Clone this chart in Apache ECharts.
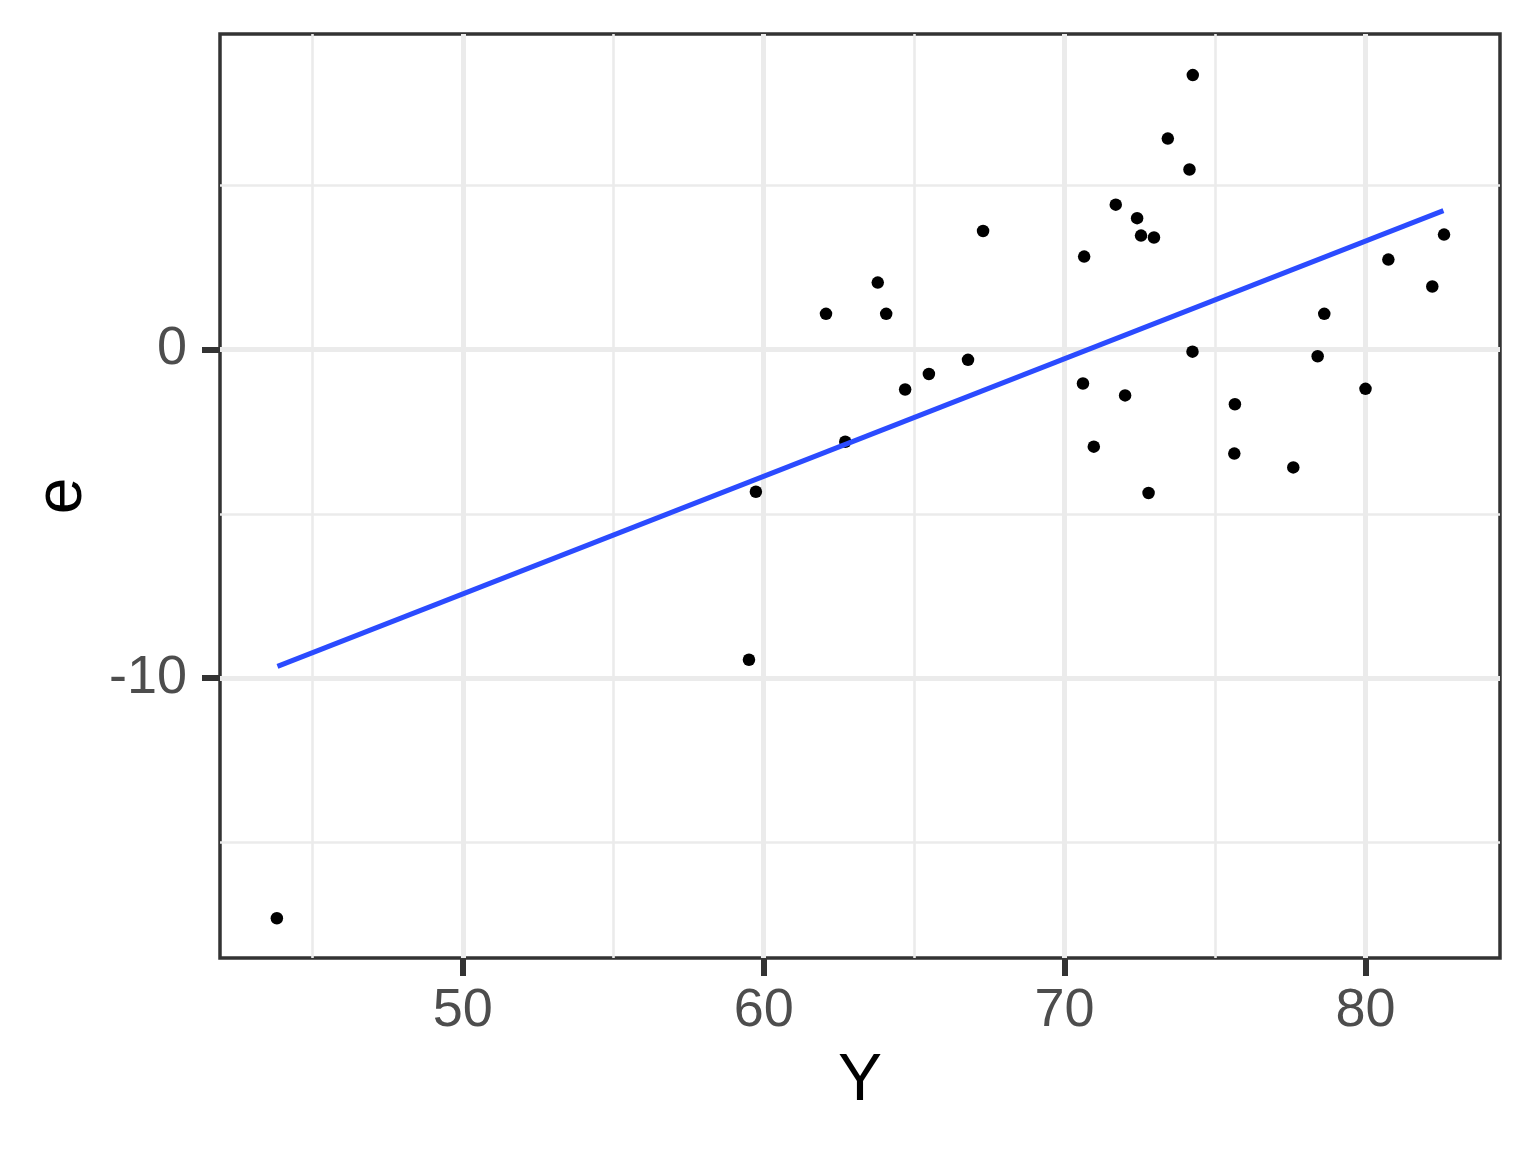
<!DOCTYPE html>
<html>
<head>
<meta charset="utf-8">
<script src="https://cdn.jsdelivr.net/npm/echarts@6/dist/echarts.min.js"></script>
<style>html,body{margin:0;padding:0;background:#fff}#c{width:1536px;height:1152px}</style>
</head>
<body>
<div id="c"></div>
<script>
// Data
const yFitted = [43.82,59.51,59.74,62.07,62.71,63.79,64.07,64.70,65.49,66.79,67.29,70.65,70.61,70.97,71.70,72.01,72.41,72.54,72.97,72.79,73.43,74.15,74.26,74.25,75.66,75.64,77.60,78.41,78.63,80.00,80.76,82.22,82.61];
const residuals = [-17.30,-9.44,-4.33,1.08,-2.81,2.03,1.08,-1.22,-0.75,-0.32,3.60,2.82,-1.04,-2.96,4.40,-1.40,3.99,3.46,3.40,-4.37,6.41,5.47,8.34,-0.07,-1.67,-3.17,-3.59,-0.21,1.08,-1.20,2.73,1.91,3.49];
const fitX = [43.84, 82.59];
const fitY = [-9.64, 4.22];
const xTicks = [50, 60, 70, 80];
const yTicks = [-10, 0];
const xMinorGrid = [45, 55, 65, 75];
const yMinorGrid = [-15, -5, 5];
const xRange = [41.93, 84.47];
const yRange = [-18.51, 9.59];

const points = yFitted.map((v, i) => [v, residuals[i]]);
const fitLine = fitX.map((v, i) => [v, fitY[i]]);

const gridColor = '#EBEBEB';
const gridLines = [];
xTicks.forEach(v => gridLines.push({xAxis: v, lineStyle: {width: 5, color: gridColor, type: 'solid'}}));
xMinorGrid.forEach(v => gridLines.push({xAxis: v, lineStyle: {width: 2.6, color: gridColor, type: 'solid'}}));
yTicks.forEach(v => gridLines.push({yAxis: v, lineStyle: {width: 5, color: gridColor, type: 'solid'}}));
yMinorGrid.forEach(v => gridLines.push({yAxis: v, lineStyle: {width: 2.6, color: gridColor, type: 'solid'}}));

const font = '"Liberation Sans", Arial, Helvetica, sans-serif';
const chart = echarts.init(document.getElementById('c'), null, {renderer: 'canvas'});
chart.setOption({
  animation: false,
  backgroundColor: '#ffffff',
  grid: {left: 220, right: 36, top: 34, bottom: 194, show: true, borderColor: '#333333', borderWidth: 3.5, backgroundColor: 'transparent'},
  xAxis: {
    type: 'value', min: xRange[0], max: xRange[1],
    name: 'Y', nameLocation: 'middle', nameGap: 91,
    nameTextStyle: {fontFamily: font, fontSize: 66, color: '#000'},
    axisLine: {show: false, onZero: false},
    axisTick: {show: true, length: 18, customValues: xTicks, lineStyle: {color: '#333333', width: 6}},
    axisLabel: {customValues: xTicks, margin: 26, fontFamily: font, fontSize: 54, color: '#4D4D4D'},
    splitLine: {show: false}
  },
  yAxis: {
    type: 'value', min: yRange[0], max: yRange[1],
    name: 'e', nameLocation: 'middle', nameGap: 124, nameRotate: 90,
    nameTextStyle: {fontFamily: font, fontSize: 66, color: '#000'},
    axisLine: {show: false, onZero: false},
    axisTick: {show: true, length: 18, customValues: yTicks, lineStyle: {color: '#333333', width: 6}},
    axisLabel: {customValues: yTicks, margin: 33, fontFamily: font, fontSize: 54, color: '#4D4D4D'},
    splitLine: {show: false}
  },
  series: [
    {
      type: 'line', data: [], silent: true, z: 1,
      markLine: {silent: true, z: 1, symbol: 'none', label: {show: false}, data: gridLines, animation: false}
    },
    {
      type: 'scatter', data: points, symbol: 'circle', symbolSize: 12.5, z: 3,
      itemStyle: {color: '#000000', opacity: 1}
    },
    {
      type: 'line', data: fitLine, showSymbol: false, symbol: 'none', z: 4,
      lineStyle: {color: '#2B4BFF', width: 5}
    }
  ]
});
</script>
</body>
</html>
